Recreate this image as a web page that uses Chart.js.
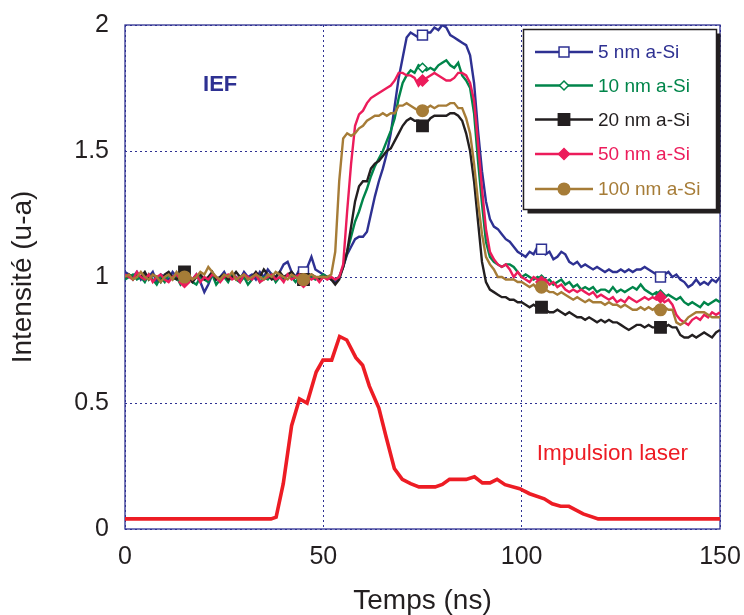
<!DOCTYPE html>
<html>
<head>
<meta charset="utf-8">
<script src="https://cdn.jsdelivr.net/npm/chart.js@4.4.0/dist/chart.umd.min.js"></script>
<style>
  html, body { margin: 0; padding: 0; background: #fff; }
  #wrap { width: 744px; height: 615px; position: relative; }
</style>
</head>
<body>
<div id="wrap"><canvas id="chart"></canvas></div>
<script>
// temps d'acquisition (ns), un point par ns
const temps = Array.from({ length: 151 }, (_, i) => i);

// intensité normalisée pour chaque épaisseur de a-Si
const si5 = [
  1.02,1.01,1.00,1.02,0.99,1.01,1.00,1.02,0.98,1.01,
  1.00,0.99,1.02,1.00,0.98,1.01,1.00,0.99,1.01,0.98,
  0.94,0.97,1.01,0.99,1.00,1.02,0.99,1.01,1.00,0.99,
  1.02,1.00,1.01,0.99,1.02,1.00,1.03,1.01,1.00,1.02,
  1.05,1.06,1.02,1.00,1.03,1.02,1.04,1.08,1.03,1.02,
  1.01,1.00,0.99,0.98,1.00,1.04,1.09,1.12,1.15,1.16,
  1.16,1.18,1.25,1.32,1.38,1.43,1.49,1.57,1.68,1.79,
  1.87,1.95,1.97,1.96,1.95,1.96,1.97,1.97,1.99,1.98,
  2.00,1.99,1.96,1.95,1.94,1.93,1.92,1.88,1.77,1.58,
  1.42,1.30,1.23,1.20,1.19,1.17,1.15,1.14,1.12,1.10,
  1.09,1.08,1.10,1.09,1.12,1.11,1.09,1.10,1.07,1.08,
  1.10,1.09,1.06,1.05,1.06,1.04,1.05,1.04,1.03,1.04,
  1.03,1.02,1.03,1.02,1.02,1.03,1.02,1.03,1.02,1.03,
  1.03,1.04,1.03,1.02,1.01,1.00,1.01,1.02,1.00,1.01,
  0.99,0.98,0.96,0.97,0.99,0.97,0.98,0.97,0.99,0.98,1.00
];
const si10 = [
  0.99,1.00,1.01,0.99,1.00,0.98,1.01,0.99,0.97,1.00,
  0.98,1.01,0.99,1.00,0.97,0.99,1.00,0.98,0.97,1.00,
  0.99,0.98,1.01,0.97,0.99,1.00,0.98,1.01,0.99,0.98,
  1.00,0.97,0.99,1.01,0.98,1.00,0.99,1.01,0.98,1.00,
  0.99,1.01,1.00,0.98,1.00,0.99,1.01,1.00,0.99,1.00,
  1.01,1.00,0.99,0.99,1.00,1.04,1.10,1.16,1.22,1.26,
  1.31,1.35,1.40,1.44,1.47,1.50,1.54,1.58,1.63,1.71,
  1.77,1.80,1.82,1.81,1.84,1.83,1.82,1.83,1.82,1.84,
  1.85,1.86,1.84,1.83,1.85,1.80,1.78,1.75,1.65,1.46,
  1.29,1.14,1.08,1.06,1.05,1.04,1.05,1.05,1.04,1.02,
  1.00,1.01,1.00,0.99,1.00,0.99,0.98,0.99,0.97,0.98,
  0.99,0.97,0.98,0.96,0.97,0.95,0.96,0.95,0.96,0.94,
  0.95,0.95,0.94,0.96,0.94,0.95,0.94,0.95,0.96,0.95,
  0.97,0.95,0.94,0.93,0.94,0.93,0.92,0.93,0.92,0.91,
  0.92,0.90,0.89,0.90,0.89,0.88,0.90,0.89,0.90,0.91,0.90
];
const si20 = [
  1.00,1.01,0.99,1.01,1.00,1.02,0.99,1.01,1.00,0.98,
  1.01,1.02,1.00,0.99,1.01,1.02,1.00,0.98,1.00,1.01,
  0.99,1.00,1.02,0.99,1.00,1.01,0.99,1.00,1.02,1.00,
  1.01,0.99,1.00,1.02,1.00,1.03,1.01,0.99,1.00,1.02,
  1.00,1.01,1.02,1.00,1.01,0.99,1.00,1.01,1.00,0.99,
  1.00,1.00,0.99,0.97,0.99,1.04,1.10,1.20,1.30,1.36,
  1.38,1.38,1.43,1.45,1.46,1.48,1.50,1.51,1.54,1.57,
  1.60,1.62,1.63,1.62,1.62,1.60,1.61,1.63,1.64,1.64,
  1.64,1.64,1.65,1.65,1.64,1.62,1.57,1.50,1.38,1.22,
  1.06,0.98,0.95,0.94,0.93,0.92,0.92,0.91,0.91,0.90,
  0.90,0.89,0.88,0.89,0.88,0.88,0.87,0.86,0.86,0.87,
  0.86,0.85,0.86,0.85,0.84,0.84,0.83,0.84,0.83,0.82,
  0.83,0.82,0.83,0.82,0.82,0.81,0.80,0.79,0.80,0.81,
  0.81,0.80,0.81,0.80,0.80,0.80,0.80,0.81,0.80,0.80,
  0.77,0.76,0.76,0.77,0.76,0.77,0.78,0.77,0.76,0.78,0.79
];
const si50 = [
  1.01,1.00,0.99,1.02,1.00,0.99,1.01,0.98,1.00,1.01,
  0.99,0.98,1.00,1.01,0.99,0.98,1.00,0.99,1.01,0.98,
  1.00,0.99,1.01,1.00,0.98,1.00,1.01,0.99,1.00,0.98,
  1.01,1.00,0.99,1.01,0.98,0.99,1.00,1.01,0.99,1.00,
  0.98,1.01,0.99,1.00,1.01,0.98,1.00,0.99,1.00,0.98,
  1.00,0.99,1.00,0.99,1.00,1.05,1.26,1.45,1.60,1.645,
  1.66,1.69,1.71,1.72,1.73,1.74,1.75,1.76,1.78,1.81,
  1.81,1.80,1.80,1.79,1.76,1.78,1.79,1.80,1.81,1.80,
  1.79,1.78,1.78,1.79,1.81,1.81,1.80,1.77,1.70,1.53,
  1.35,1.19,1.10,1.07,1.05,1.04,1.05,1.03,1.00,1.02,
  1.00,0.99,0.98,1.00,0.99,0.98,0.99,0.97,0.98,0.96,
  0.97,0.95,0.94,0.95,0.94,0.95,0.94,0.93,0.94,0.92,
  0.93,0.92,0.91,0.92,0.90,0.91,0.90,0.92,0.91,0.90,
  0.91,0.92,0.91,0.92,0.91,0.92,0.90,0.91,0.89,0.85,
  0.83,0.82,0.81,0.83,0.84,0.83,0.85,0.84,0.86,0.85,0.86
];
const si100 = [
  1.00,1.01,0.99,1.00,1.02,1.00,0.99,1.01,1.00,0.98,
  1.00,1.01,0.99,1.02,1.00,1.00,1.01,0.99,1.00,1.02,
  1.01,1.04,1.02,1.00,0.99,1.01,1.00,1.02,0.99,1.00,
  1.01,0.99,1.00,1.01,1.00,0.99,1.01,1.00,1.02,1.01,
  1.00,0.99,1.01,1.00,0.99,0.99,1.00,1.01,1.00,1.00,
  1.00,1.00,1.01,1.10,1.38,1.55,1.57,1.56,1.57,1.59,
  1.60,1.62,1.63,1.64,1.64,1.65,1.64,1.65,1.65,1.68,
  1.68,1.69,1.68,1.67,1.66,1.66,1.67,1.68,1.67,1.68,
  1.68,1.68,1.69,1.69,1.67,1.67,1.63,1.57,1.45,1.30,
  1.17,1.08,1.05,1.03,1.00,1.00,0.99,0.99,0.99,0.98,
  0.98,0.97,0.96,0.97,0.95,0.96,0.95,0.94,0.94,0.93,
  0.94,0.93,0.92,0.91,0.92,0.91,0.90,0.91,0.90,0.90,
  0.90,0.89,0.90,0.89,0.89,0.88,0.89,0.88,0.87,0.87,
  0.88,0.87,0.88,0.87,0.88,0.87,0.88,0.87,0.87,0.82,
  0.81,0.82,0.84,0.85,0.86,0.86,0.86,0.85,0.84,0.84,0.84
];

// impulsion laser
const laserT = [0, 36.8, 38.1, 39.9, 42.0, 44.0, 45.9, 48.2, 49.9, 52.1, 54.1, 55.9, 58.2, 59.9, 61.6, 64.0, 65.8, 67.9, 69.9, 72.0, 74.1, 78.2, 80.0, 81.8, 86.0, 88.1, 90.1, 92.0, 93.8, 95.8, 99.5, 102.0, 105.7, 107.7, 109.8, 111.9, 115.5, 119.3, 150];
const laserI = [0.04, 0.04, 0.047, 0.18, 0.41, 0.516, 0.5, 0.623, 0.67, 0.67, 0.764, 0.75, 0.68, 0.65, 0.567, 0.48, 0.367, 0.24, 0.197, 0.18, 0.167, 0.167, 0.177, 0.197, 0.197, 0.207, 0.183, 0.183, 0.197, 0.176, 0.16, 0.14, 0.12, 0.1, 0.09, 0.09, 0.06, 0.04, 0.04];

const markTimes = [15, 45, 75, 105, 135];
const xTicks = [0, 50, 100, 150];
const yTicks = [0, 0.5, 1, 1.5, 2];

const FONT = "'Liberation Sans', Arial, Helvetica, sans-serif";
const gridBlue = "#2e3192";

function toPoints(values) {
    return temps.map((t, i) => ({ x: t, y: values[i] }));
}

// série : libellé, données, couleur, marqueur
const series = [
    { label: "5 nm a-Si",   values: si5,   color: "#2e3192", style: "rect",    radius: 7,   fill: "#ffffff", order: 5 },
    { label: "10 nm a-Si",  values: si10,  color: "#00854a", style: "rectRot", radius: 4.5, fill: "#ffffff", order: 4 },
    { label: "20 nm a-Si",  values: si20,  color: "#231f20", style: "rect",    radius: 8,   fill: "#231f20", order: 3 },
    { label: "50 nm a-Si",  values: si50,  color: "#ec1c5b", style: "rectRot", radius: 5.5, fill: "#ec1c5b", order: 2 },
    { label: "100 nm a-Si", values: si100, color: "#a67c37", style: "circle",  radius: 5.8, fill: "#a67c37", order: 1 },
];

const datasets = series.map(s => ({
    label: s.label,
    data: toPoints(s.values),
    borderColor: s.color,
    borderWidth: 2.4,
    backgroundColor: s.fill,
    pointStyle: s.style,
    pointBackgroundColor: s.fill,
    pointBorderColor: s.color,
    pointBorderWidth: 1.5,
    pointRadius: c => (c.raw && markTimes.includes(c.raw.x)) ? s.radius : 0,
    pointHoverRadius: 0,
    tension: 0,
    order: s.order,
}));

datasets.push({
    label: "Impulsion laser",
    data: laserT.map((t, i) => ({ x: t, y: laserI[i] })),
    borderColor: "#ed1c24",
    borderWidth: 3.6,
    pointRadius: 0,
    tension: 0,
    order: 0,
});

// cadre bleu autour de la zone du graphe
const framePlugin = {
    id: "frame",
    beforeDatasetsDraw(chart) {
        const { ctx, chartArea: a } = chart;
        ctx.save();
        ctx.strokeStyle = gridBlue;
        ctx.lineWidth = 1.3;
        ctx.strokeRect(a.left, a.top, a.right - a.left, a.bottom - a.top);
        ctx.restore();
    }
};

function drawMarker(ctx, s, x, y) {
    ctx.fillStyle = s.fill;
    ctx.strokeStyle = s.color;
    ctx.lineWidth = 1.5;
    if (Chart.helpers && Chart.helpers.drawPoint) {
        Chart.helpers.drawPoint(ctx, { pointStyle: s.style, radius: s.radius, borderWidth: 1.5, rotation: 0 }, x, y);
    }
}

// légende encadrée + textes IEF / Impulsion laser
const notesPlugin = {
    id: "notes",
    afterDraw(chart) {
        const { ctx } = chart;
        const xs = chart.scales.x, ys = chart.scales.y;
        ctx.save();

        ctx.font = "bold 22px " + FONT;
        ctx.fillStyle = "#2e3192";
        ctx.textAlign = "center";
        ctx.textBaseline = "middle";
        ctx.fillText("IEF", xs.getPixelForValue(24), ys.getPixelForValue(1.764));

        ctx.font = "22.5px " + FONT;
        ctx.fillStyle = "#ed1c24";
        ctx.textAlign = "left";
        ctx.fillText("Impulsion laser", xs.getPixelForValue(103.8), ys.getPixelForValue(0.297));

        const bx = 523.5, by = 29.5, bw = 193, bh = 180;
        ctx.fillStyle = "#231f20";
        ctx.fillRect(bx + 4, by + 4, bw, bh);
        ctx.fillStyle = "#ffffff";
        ctx.fillRect(bx, by, bw, bh);
        ctx.strokeStyle = "#231f20";
        ctx.lineWidth = 1.5;
        ctx.strokeRect(bx, by, bw, bh);

        const rows = [52, 85.5, 119.5, 154, 189];
        ctx.font = "19px " + FONT;
        ctx.textBaseline = "middle";
        series.forEach((s, i) => {
            const y = rows[i];
            ctx.strokeStyle = s.color;
            ctx.lineWidth = 2.6;
            ctx.beginPath();
            ctx.moveTo(535, y);
            ctx.lineTo(593, y);
            ctx.stroke();
            drawMarker(ctx, s, 564, y);
            ctx.fillStyle = s.color;
            ctx.fillText(s.label, 598, y + 1);
        });
        ctx.restore();
    }
};

const ctx = document.getElementById("chart").getContext("2d");
new Chart(ctx, {
    type: "line",
    data: { datasets },
    plugins: [framePlugin, notesPlugin],
    options: {
        responsive: true,
        maintainAspectRatio: false,
        animation: false,
        layout: { padding: { top: 25, right: 24, left: 0, bottom: 0 } },
        plugins: {
            legend: { display: false },
            tooltip: { enabled: false },
        },
        scales: {
            x: {
                type: "linear",
                min: 0,
                max: 150,
                afterFit: scale => {
                    scale.height = 86;
                    scale.paddingLeft = 0;
                    scale.paddingRight = 0;
                },
                afterBuildTicks: scale => { scale.ticks = xTicks.map(v => ({ value: v })); },
                grid: {
                    color: gridBlue,
                    lineWidth: 1,
                    drawTicks: false,
                },
                border: { display: false, dash: [2, 3] },
                ticks: {
                    padding: 13,
                    color: "#231f20",
                    font: { family: FONT, size: 25 },
                    callback: v => String(v),
                },
                title: {
                    display: true,
                    text: "Temps (ns)",
                    color: "#231f20",
                    font: { family: FONT, size: 28, lineHeight: 1 },
                    padding: { top: 0, bottom: 0 },
                },
            },
            y: {
                min: 0,
                max: 2,
                afterFit: scale => {
                    scale.width = 125;
                    scale.paddingTop = 0;
                    scale.paddingBottom = 0;
                },
                afterBuildTicks: scale => { scale.ticks = yTicks.map(v => ({ value: v })); },
                grid: {
                    color: gridBlue,
                    lineWidth: 1,
                    drawTicks: false,
                },
                border: { display: false, dash: [2, 3] },
                ticks: {
                    padding: 16,
                    color: "#231f20",
                    font: { family: FONT, size: 25 },
                    callback: v => String(v),
                },
                title: {
                    display: true,
                    text: "Intensité (u-a)",
                    color: "#231f20",
                    font: { family: FONT, size: 28, lineHeight: 1 },
                    padding: { top: 9, bottom: 0 },
                },
            },
        },
    },
});
</script>
</body>
</html>
